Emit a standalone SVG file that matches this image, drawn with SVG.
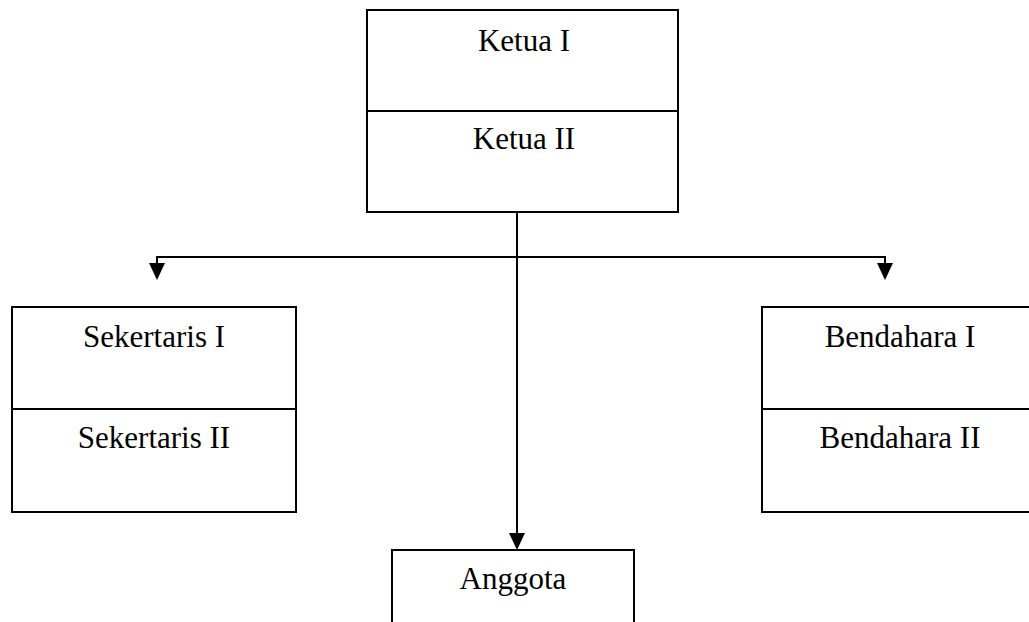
<svg xmlns="http://www.w3.org/2000/svg" width="1029" height="622" viewBox="0 0 1029 622">
<style>
.box{fill:#fff;stroke:#000;stroke-width:2}
.div{stroke:#000;stroke-width:2}
.t{font-family:"Liberation Serif","Times New Roman",serif;font-size:31px;fill:#000;text-anchor:middle}
.c{fill:none;stroke:#000;stroke-width:2}
.ah{fill:#000}
</style>
<rect width="1029" height="622" fill="#fff"/>
<g id="connectors">
<path class="c" d="M517,212 V548"/>
<path class="c" d="M157,277 V257 H885 V277"/>
<path class="ah" d="M149,263 L165,263 L157,280 Z"/>
<path class="ah" d="M877,263 L893,263 L885,280 Z"/>
<path class="ah" d="M509,533 L525,533 L517,550 Z"/>
</g>
<g id="ketua">
<rect class="box" x="367" y="10" width="311" height="202"/>
<line class="div" x1="367" y1="111" x2="678" y2="111"/>
<text class="t" x="524" y="51">Ketua I</text>
<text class="t" x="524" y="149">Ketua II</text>
</g>
<g id="sekertaris">
<rect class="box" x="12" y="307" width="284" height="205"/>
<line class="div" x1="12" y1="409" x2="296" y2="409"/>
<text class="t" x="154" y="347">Sekertaris I</text>
<text class="t" x="154" y="448">Sekertaris II</text>
</g>
<g id="bendahara">
<rect class="box" x="762" y="307" width="280" height="205"/>
<line class="div" x1="762" y1="409" x2="1042" y2="409"/>
<text class="t" x="900" y="347">Bendahara I</text>
<text class="t" x="900" y="448">Bendahara II</text>
</g>
<g id="anggota">
<rect class="box" x="392" y="550" width="242" height="90"/>
<text class="t" x="513" y="589">Anggota</text>
</g>
</svg>
